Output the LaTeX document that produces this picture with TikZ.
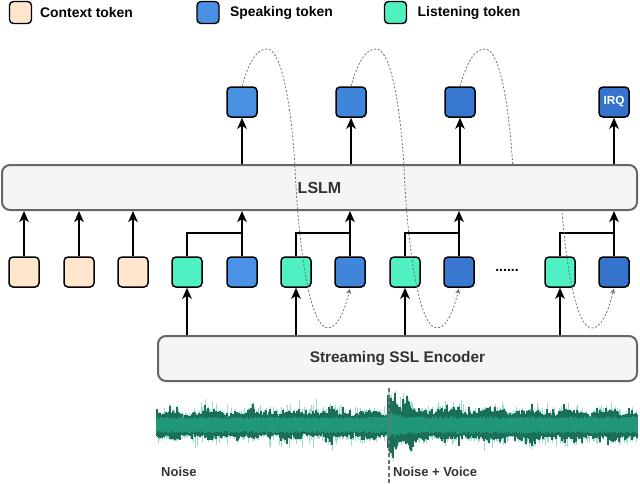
\documentclass[tikz,border=0pt]{standalone}
\usepackage{fontspec}
\setmainfont{Liberation Sans}
\usetikzlibrary{arrows.meta}
\definecolor{ctxc}{HTML}{FFE6CC}
\definecolor{lisc}{HTML}{4FF0C2}
\definecolor{spk}{HTML}{4A90E2}
\definecolor{spka}{HTML}{4A92E6}
\definecolor{spkb}{HTML}{3F86DB}
\definecolor{spkc}{HTML}{3878D0}
\definecolor{spkd}{HTML}{3573CC}
\definecolor{boxfill}{HTML}{F5F5F5}
\definecolor{boxline}{HTML}{666666}
\definecolor{txt}{HTML}{333333}
\definecolor{dashc}{HTML}{707070}
\definecolor{wlightc}{HTML}{9ADDCC}
\definecolor{wdarkc}{HTML}{1B6E58}
\definecolor{wcorec}{HTML}{21977A}
\tikzset{
  tok/.style={draw=black, line width=1.5pt, rounded corners=4pt, minimum width=30pt, minimum height=30pt, inner sep=0pt},
  legbox/.style={draw=black, line width=1.4pt, rounded corners=4pt, minimum width=22pt, minimum height=22pt, inner sep=0pt},
  legtxt/.style={anchor=west, inner sep=0pt, font=\fontsize{13.9}{16}\selectfont\bfseries},
  bigbox/.style={draw=boxline, fill=boxfill, line width=2pt, rounded corners=8pt, inner sep=0pt, text=txt},
  conn/.style={line width=2pt, draw=black},
  arr/.style={conn, -{Stealth[length=11pt,width=9.5pt,inset=3pt]}},
  dcurve/.style={draw=dashc, line width=0.8pt, dash pattern=on 2pt off 1.8pt, -{Stealth[length=5pt,width=5pt,inset=1.5pt]}},
  dcurvenot/.style={draw=dashc, line width=0.8pt, dash pattern=on 2pt off 1.8pt},
  wlight/.style={draw=wlightc, line width=1pt},
  wdark/.style={draw=wdarkc, line width=1.1pt},
  wcore/.style={draw=wcorec, line width=1.1pt},
  lbl/.style={anchor=west, inner sep=0pt, text=txt, font=\fontsize{13}{15}\selectfont\bfseries}
}
\begin{document}
\begin{tikzpicture}[x=1pt,y=-1pt]
\useasboundingbox (0,0) rectangle (640,483);
% legend
\node[legbox, fill=ctxc] (lg1) at (20.5,12.5) {};
\node[legtxt] (lt1) at (40,12.5) {Context token};
\node[legbox, fill=spk] (lg2) at (208,12.5) {};
\node[legtxt] (lt2) at (230,12.5) {Speaking token};
\node[legbox, fill=lisc] (lg3) at (395.5,12.5) {};
\node[legtxt] (lt3) at (417.5,12.5) {Listening token};
% waveform
\pgfmathsetseed{11}
\foreach \i in {157,...,637}{
  \pgfmathsetmacro\b{(\i>=388)*(1.7*exp(-max(\i-388,0)/11)+0.1)}
  \pgfmathsetmacro\m{1+0.12*sin(\i*9)+0.08*sin(\i*23+40)}
  \pgfmathsetmacro\dt{(9+4*rnd+6*rnd^6)*(1+\b)*\m}
  \pgfmathsetmacro\db{(9+4*rnd+6*rnd^6)*(1+\b)*\m}
  \pgfmathsetmacro\lt{\dt+2.5*rnd+9*rnd^7}
  \pgfmathsetmacro\lb{\db+2.5*rnd+9*rnd^7}
  \pgfmathsetmacro\ct{(6+2.5*rnd)*(1+0.4*\b)}
  \pgfmathsetmacro\cb{(6+2.5*rnd)*(1+0.4*\b)}
  \draw[wlight] (\i,425-\lt) -- (\i,425+\lb);
  \draw[wdark] (\i,425-\dt) -- (\i,425+\db);
  \draw[wcore] (\i,425-\ct) -- (\i,425+\cb);
}
\coordinate (divtop) at (389,388);
\coordinate (divbot) at (389,483);
\draw[dashc, line width=1.2pt, dash pattern=on 4pt off 2.5pt] (divtop) -- (divbot);
\node[lbl] (noise) at (161,471.5) {Noise};
\node[lbl] (nv) at (393,471.5) {Noise + Voice};
% big boxes
\node[bigbox, minimum width=635pt, minimum height=45pt, font=\fontsize{16}{18}\selectfont\bfseries] (lslm) at (319.5,187.5) {LSLM};
\node[bigbox, minimum width=479pt, minimum height=45pt, font=\fontsize{15.4}{18}\selectfont\bfseries] (enc) at (397.5,358.5) {Streaming SSL Encoder};
% top tokens
\node[tok, fill=spk] (s1) at (242,102) {};
\node[tok, fill=spkb] (s2) at (351,102) {};
\node[tok, fill=spkc] (s3) at (460,102) {};
\node[tok, fill=spkd, text=white, font=\fontsize{11.8}{13}\selectfont\bfseries] (irq) at (614,102) {IRQ};
% bottom tokens
\node[tok, fill=ctxc] (c1) at (24,272) {};
\node[tok, fill=ctxc] (c2) at (79,272) {};
\node[tok, fill=ctxc] (c3) at (133,272) {};
\node[tok, fill=lisc] (l1) at (187,272) {};
\node[tok, fill=spka] (b1) at (242,272) {};
\node[tok, fill=lisc] (l2) at (296,272) {};
\node[tok, fill=spkb] (b2) at (350,272) {};
\node[tok, fill=lisc] (l3) at (405,272) {};
\node[tok, fill=spkc] (b3) at (459,272) {};
\node[inner sep=0pt, font=\fontsize{14}{16}\selectfont\bfseries] (dots) at (507,270) {......};
\node[tok, fill=lisc] (l4) at (560,272) {};
\node[tok, fill=spkd] (b4) at (614,272) {};
% arrows LSLM -> top tokens
\foreach \t in {s1,s2,s3,irq}{
  \draw[arr] (\t.south |- lslm.north) -- (\t.south);
}
% context tokens -> LSLM
\foreach \t in {c1,c2,c3}{
  \draw[arr] (\t.north) -- (\t.north |- lslm.south);
}
% listening/speaking brackets
\foreach \l/\s in {l1/b1,l2/b2,l3/b3,l4/b4}{
  \draw[conn] (\l.north) -- ++(0,-23) -| (\s.north);
  \draw[arr] (\s.north) -- (\s.north |- lslm.south);
  \draw[arr] (\l.south |- enc.north) -- (\l.south);
}
% dashed curves
\draw[dcurve, shorten >=1pt] (s1.north) .. controls (250,58) and (258,49) .. (267,49)
  .. controls (283,49) and (292,115) .. (295,167)
  .. controls (298,240) and (309,328) .. (328,328)
  .. controls (339,328) and (346,305) .. (b2.south);
\draw[dcurve, shorten >=1pt] (s2.north) .. controls (359,58) and (367,49) .. (376,49)
  .. controls (392,49) and (401,115) .. (404,167)
  .. controls (407,240) and (418,328) .. (437,328)
  .. controls (448,328) and (455,305) .. (b3.south);
\begin{scope}
  \clip (0,0) rectangle (640,164);
  \draw[dcurvenot] (s3.north) .. controls (468,58) and (476,49) .. (485,49)
    .. controls (501,49) and (510,115) .. (513,170);
\end{scope}
\begin{scope}
  \clip (0,211) rectangle (640,483);
  \draw[dcurve, shorten >=1pt] (559,160) .. controls (562,240) and (573,328) .. (592,328)
    .. controls (603,328) and (610,305) .. (b4.south);
\end{scope}
\end{tikzpicture}
\end{document}
